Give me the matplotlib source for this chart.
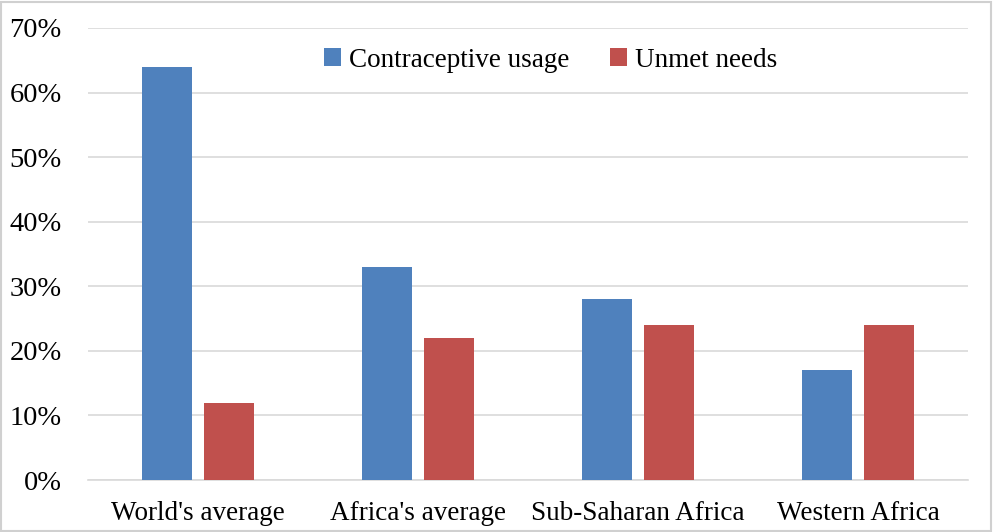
import numpy as np
import matplotlib.pyplot as plt
from matplotlib.patches import Rectangle
from matplotlib.ticker import PercentFormatter

regions = ["World's average", "Africa's average", "Sub-Saharan Africa", "Western Africa"]
contraceptive = [64, 33, 28, 17]
unmet = [12, 22, 24, 24]

plt.rcParams['font.family'] = ['Liberation Serif', 'DejaVu Serif']

fig = plt.figure(figsize=(9.93, 5.32), dpi=100)
ax = fig.add_axes([88 / 993, 52 / 532, 880 / 993, 452 / 532])

x = np.arange(len(regions))
w = 0.227
off = 0.141
ax.bar(x - off, contraceptive, w, color='#4F81BD', label='Contraceptive usage', zorder=3)
ax.bar(x + off, unmet, w, color='#C0504D', label='Unmet needs', zorder=3)

ax.set_xlim(-0.5, len(regions) - 0.5)
ax.set_ylim(0, 70)
ax.set_yticks(np.arange(0, 71, 10))
ax.yaxis.set_major_formatter(PercentFormatter(decimals=0))
ax.set_xticks(x)
ax.set_xticklabels(regions)
ax.tick_params(axis='both', length=0, labelsize=19.5, colors='black')
ax.tick_params(axis='y', labelsize=20.5, pad=19)
ax.tick_params(axis='x', pad=29)
for lab in ax.get_xticklabels():
    lab.set_verticalalignment('baseline')
ax.grid(axis='y', color='#d9d9d9', linewidth=1.2, zorder=0)
for s in ['top', 'right', 'left']:
    ax.spines[s].set_visible(False)
ax.spines['bottom'].set_color('#d9d9d9')
ax.spines['bottom'].set_linewidth(1.2)

ax.legend(loc='center', bbox_to_anchor=(0.526, 0.929), ncol=2, frameon=False,
          fontsize=19.5, handlelength=0.62, handleheight=0.62, handletextpad=0.3,
          columnspacing=1.5)

fig.patches.append(Rectangle((0.001, 0.002), 0.997, 0.995, transform=fig.transFigure,
                             fill=False, edgecolor='#d0d0d0', linewidth=1.5))

fig.savefig('out.png', dpi=100)
